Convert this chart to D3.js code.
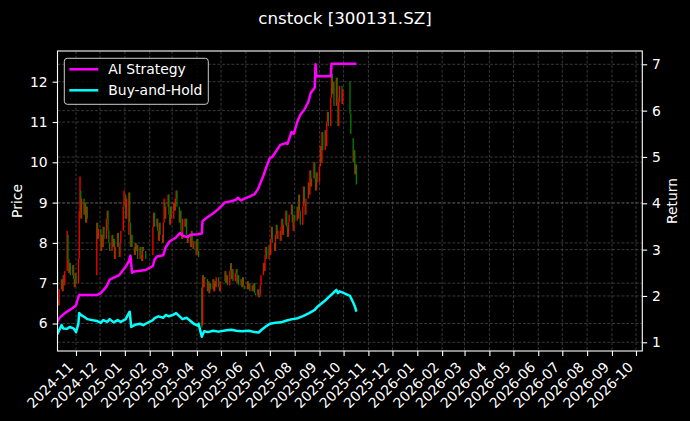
<!DOCTYPE html>
<html>
<head>
<meta charset="utf-8">
<script src="https://cdn.jsdelivr.net/npm/d3@7"></script>
<style>
  body { margin: 0; background: #000; }
  svg { display: block; font-family: "DejaVu Sans", sans-serif; }
</style>
</head>
<body>
<svg id="chart" width="690" height="421"></svg>
<script>
// trading calendar: weekdays between these, minus market holidays / suspension
const firstDay = '2024-10-08';
const lastDay = '2025-10-17';
const closedRanges = [
  ['2024-11-18', '2024-11-26'],
  ['2025-01-01', '2025-01-01'],
  ['2025-01-28', '2025-02-04'],
  ['2025-04-04', '2025-04-04'],
  ['2025-05-01', '2025-05-05'],
  ['2025-06-02', '2025-06-02'],
  ['2025-10-01', '2025-10-08']
];

// daily open / close, one line per week
const opens = [
  6.95, 7.3, 6.6, 6.45,
  6.85, 7.1, 6.8, 7.2, 6.95,
  7.3, 8.2, 7.6, 7.25, 7.5,
  7.2, 7.45, 7.1, 6.9, 7.25,
  7.0, 7.6, 8.8, 9.3, 8.6,
  9.1, 8.7, 9.0, 8.5, 8.9,
  7.2, 8.5, 8.1,
  8.35, 7.8, 8.2, 7.9, 8.4,
  8.1, 8.6, 8.8, 8.3, 8.0,
  7.8, 8.2, 7.9, 8.1, 7.6,
  7.9, 8.25, 7.9, 7.65, 8.0,
  8.3, 8.9, 9.2, 8.6,
  8.2, 9.25, 8.5, 7.9, 8.2,
  7.9, 7.7, 8.0, 7.8, 7.95,
  7.6, 7.9, 7.7, 7.55, 7.9,
  7.8,
  7.7, 8.4, 8.75,
  8.4, 8.6, 8.3, 8.05, 8.5,
  8.2, 8.0, 8.5, 9.0, 8.6,
  8.9, 9.2, 8.7, 8.45, 8.9,
  8.6, 9.0, 8.8, 9.1, 9.3,
  8.9, 8.5, 8.8, 8.3, 8.1,
  8.6, 8.4, 8.6, 8.2, 8.0,
  8.2, 7.9, 8.3, 8.0, 7.85,
  8.05, 7.7, 8.1, 7.8,
  6.9, 5.95, 7.2, 6.9, 7.15,
  7.1, 6.8, 7.05, 6.75, 7.0,
  6.85, 7.1, 6.8, 7.05, 6.9,
  7.15, 6.9, 6.8,
  7.05, 7.3, 7.0, 7.2,
  6.95, 7.3, 7.5, 7.1, 7.35,
  7.05, 7.25, 7.35, 7.0, 7.2,
  6.95, 7.1, 6.9, 7.15, 6.95,
  6.85, 7.05, 6.85, 7.0,
  6.8, 6.95, 6.8, 7.0, 6.75,
  6.7, 6.85, 6.65, 6.7, 6.95,
  7.2, 7.5, 7.3, 7.7, 7.9,
  7.6, 7.95, 7.7, 8.1, 8.4,
  8.0, 7.8, 8.2, 8.45, 8.1,
  8.3, 8.05, 8.4, 8.6, 8.2,
  8.45, 8.8, 8.4, 8.15, 8.5,
  8.7, 8.95, 8.5, 8.3, 8.7,
  8.55, 8.9, 8.6, 9.2, 8.8,
  8.45, 8.9, 9.4, 9.0, 8.7,
  9.1, 9.5, 9.2, 9.8, 9.4,
  9.6, 10.0, 9.6, 9.3, 9.75,
  9.5, 9.9, 10.4, 10.0, 10.75,
  10.3, 10.8, 10.4, 11.0, 11.25,
  10.9, 11.6, 12.2, 11.7, 12.0,
  11.4, 12.1, 11.6, 10.9, 11.5,
  11.9, 11.45,
  12.0, 11.2,
  10.6, 10.0, 10.3, 9.7, 9.95
];
const closes = [
  7.4, 6.6, 6.45, 6.85,
  7.1, 6.8, 7.2, 6.95, 7.3,
  8.3, 7.6, 7.25, 7.5, 7.2,
  7.45, 7.1, 6.9, 7.25, 7.0,
  7.6, 8.8, 9.65, 8.6, 9.1,
  8.7, 9.0, 8.5, 8.9, 8.6,
  8.5, 8.1, 8.35,
  7.8, 8.2, 7.9, 8.4, 8.1,
  8.6, 8.8, 8.3, 8.0, 7.8,
  8.2, 7.9, 8.1, 7.6, 7.9,
  8.25, 7.9, 7.65, 8.0, 8.3,
  8.9, 9.3, 8.6, 9.1,
  9.25, 8.5, 7.9, 8.2, 7.9,
  7.7, 8.0, 7.8, 7.95, 7.6,
  7.9, 7.7, 7.55, 7.9, 7.8,
  7.6,
  8.4, 8.75, 8.4,
  8.6, 8.3, 8.05, 8.5, 8.2,
  8.0, 8.5, 9.1, 8.6, 8.9,
  9.2, 8.7, 8.45, 8.9, 8.6,
  9.0, 8.8, 9.1, 9.3, 8.9,
  8.5, 8.8, 8.3, 8.1, 8.6,
  8.4, 8.6, 8.2, 8.0, 8.2,
  7.9, 8.3, 8.0, 7.85, 8.05,
  7.7, 8.1, 7.8, 7.65,
  5.9, 7.2, 6.9, 7.15, 7.1,
  6.8, 7.05, 6.75, 7.0, 6.85,
  7.1, 6.8, 7.05, 6.9, 7.15,
  6.9, 6.8, 7.05,
  7.3, 7.0, 7.2, 6.95,
  7.3, 7.5, 7.1, 7.35, 7.05,
  7.25, 7.35, 7.0, 7.2, 6.95,
  7.1, 6.9, 7.15, 6.95, 6.85,
  7.05, 6.85, 7.0, 6.8,
  6.95, 6.8, 7.0, 6.75, 6.7,
  6.85, 6.65, 6.7, 6.95, 7.2,
  7.5, 7.3, 7.7, 7.9, 7.6,
  7.95, 7.7, 8.1, 8.4, 8.0,
  7.8, 8.2, 8.45, 8.1, 8.3,
  8.05, 8.4, 8.6, 8.2, 8.45,
  8.8, 8.4, 8.15, 8.5, 8.7,
  8.95, 8.5, 8.3, 8.7, 8.55,
  8.9, 8.6, 9.2, 8.8, 8.45,
  8.9, 9.4, 9.0, 8.7, 9.1,
  9.5, 9.2, 9.8, 9.4, 9.6,
  10.0, 9.6, 9.3, 9.75, 9.5,
  9.9, 10.4, 10.0, 10.75, 10.3,
  10.8, 10.4, 11.0, 11.25, 10.9,
  11.6, 12.2, 11.7, 12.0, 11.4,
  12.1, 11.6, 10.9, 11.5, 11.9,
  11.45, 11.8,
  11.2, 10.7,
  10.0, 10.3, 9.7, 9.95, 9.45
];

// AI strategy cumulative return (right axis)
const stratDates = ['2024-10-08','2024-10-11','2024-10-18','2024-10-28','2024-11-01','2024-11-04','2024-11-05','2024-11-27',
  '2024-12-02','2024-12-09','2024-12-13','2024-12-19','2024-12-25','2025-01-02','2025-01-06','2025-01-08','2025-01-10',
  '2025-01-13','2025-01-27','2025-02-05','2025-02-07','2025-02-10','2025-02-18','2025-02-21','2025-02-26','2025-03-05',
  '2025-03-11','2025-03-14','2025-03-20','2025-03-24','2025-04-02','2025-04-07','2025-04-08','2025-04-14','2025-04-21',
  '2025-04-28','2025-05-06','2025-05-12','2025-05-19','2025-05-22','2025-05-26','2025-05-30','2025-06-05','2025-06-12',
  '2025-06-16','2025-06-23','2025-06-27','2025-07-01','2025-07-04','2025-07-14','2025-07-21','2025-07-23','2025-07-28',
  '2025-07-31','2025-08-04','2025-08-08','2025-08-13','2025-08-18','2025-08-21','2025-08-26','2025-08-27','2025-08-28',
  '2025-09-15','2025-09-16','2025-10-17'];
const stratVals = [1.42,1.52,1.63,1.74,1.80,1.98,2.02,2.02,
  2.06,2.20,2.35,2.40,2.45,2.63,2.75,2.87,2.50,
  2.53,2.56,2.65,2.78,2.85,2.88,3.05,3.18,3.25,
  3.36,3.30,3.27,3.32,3.33,3.35,3.62,3.70,3.78,
  3.88,4.02,4.04,4.07,4.12,4.06,4.10,4.14,4.20,
  4.30,4.60,4.80,4.98,5.00,5.26,5.30,5.28,5.54,
  5.50,5.75,5.91,6.02,6.19,6.38,6.50,7.00,6.74,
  6.74,7.01,7.01];

// buy-and-hold return (right axis)
const holdDates = ['2024-10-08','2024-10-10','2024-10-14','2024-10-16','2024-10-21','2024-10-24','2024-10-29','2024-11-01',
  '2024-11-04','2024-11-05','2024-11-08','2024-11-12','2024-11-15','2024-11-27','2024-12-02','2024-12-05','2024-12-10',
  '2024-12-13','2024-12-18','2024-12-23','2024-12-27','2025-01-02','2025-01-07','2025-01-09','2025-01-14','2025-01-20',
  '2025-01-24','2025-01-27','2025-02-05','2025-02-07','2025-02-12','2025-02-18','2025-02-21','2025-02-25','2025-03-03',
  '2025-03-06','2025-03-11','2025-03-14','2025-03-19','2025-03-24','2025-03-28','2025-04-02','2025-04-03','2025-04-07',
  '2025-04-08','2025-04-10','2025-04-15','2025-04-21','2025-04-28','2025-05-08','2025-05-14','2025-05-20','2025-05-27',
  '2025-06-05','2025-06-12','2025-06-17','2025-06-20','2025-06-25','2025-07-01','2025-07-08','2025-07-15','2025-07-22',
  '2025-07-29','2025-08-05','2025-08-12','2025-08-19','2025-08-26','2025-08-29','2025-09-03','2025-09-08','2025-09-12',
  '2025-09-16','2025-09-19','2025-09-22','2025-09-24','2025-09-26','2025-09-30','2025-10-09','2025-10-13','2025-10-15',
  '2025-10-17'];
const holdVals = [1.16,1.22,1.37,1.30,1.29,1.33,1.30,1.22,
  1.40,1.63,1.58,1.54,1.50,1.46,1.42,1.48,1.44,
  1.50,1.43,1.48,1.44,1.50,1.66,1.33,1.38,1.40,
  1.37,1.40,1.48,1.52,1.56,1.53,1.59,1.56,1.60,
  1.63,1.55,1.50,1.53,1.46,1.40,1.36,1.40,1.12,
  1.16,1.24,1.22,1.25,1.23,1.26,1.27,1.25,1.24,
  1.25,1.22,1.21,1.26,1.33,1.40,1.42,1.43,1.47,
  1.50,1.52,1.57,1.63,1.70,1.76,1.83,1.90,1.97,
  2.03,2.08,2.13,2.06,2.10,2.07,2.00,1.86,1.78,
  1.66];

const priceTicks = [6, 7, 8, 9, 10, 11, 12];
const returnTicks = [1, 2, 3, 4, 5, 6, 7];
const seriesNames = ['AI Strategy', 'Buy-and-Hold'];
const seriesColors = ['#ff00ff', '#00ffff'];
const chartTitle = 'cnstock [300131.SZ]';

const parse = d3.timeParse('%Y-%m-%d');
const closed = closedRanges.map(r => [parse(r[0]), parse(r[1])]);
const tradeDays = d3.timeDay.range(parse(firstDay), d3.timeDay.offset(parse(lastDay), 1))
  .filter(d => d.getDay() > 0 && d.getDay() < 6 && !closed.some(r => d >= r[0] && d <= r[1]));
const candles = tradeDays.map((d, i) => ({ date: d, o: opens[i], c: closes[i] }))
  .filter(d => d.o != null && d.c != null);

const padL = 57.5, padR = 642.3, padT = 51, padB = 351;
const tickLen = 4.9, fs = 13.9;

const x = d3.scaleTime()
  .domain([new Date(2024, 9, 8, 22), new Date(2026, 9, 8, 21)])
  .range([padL, padR]);
const yPrice = d3.scaleLinear().domain([5.318, 12.762]).range([padB, padT]);
const yRet = d3.scaleLinear().domain([0.812, 7.287]).range([padB, padT]);

const svg = d3.select('#chart');
svg.append('rect').attr('width', 690).attr('height', 421).attr('fill', '#000');

svg.append('defs').append('clipPath').attr('id', 'plot')
  .append('rect').attr('x', padL).attr('y', padT).attr('width', padR - padL).attr('height', padB - padT);

// grid
const monthTicks = x.ticks(d3.timeMonth.every(1));
const grid = svg.append('g').attr('stroke', '#5c5c5c').attr('stroke-width', 0.6)
  .attr('stroke-dasharray', '3,1.7');
grid.selectAll('.gx').data(monthTicks).enter().append('line')
  .attr('x1', d => x(d)).attr('x2', d => x(d)).attr('y1', padT).attr('y2', padB);
grid.selectAll('.gp').data(priceTicks).enter().append('line')
  .attr('x1', padL).attr('x2', padR).attr('y1', d => yPrice(d)).attr('y2', d => yPrice(d));
grid.selectAll('.gr').data(returnTicks).enter().append('line')
  .attr('x1', padL).attr('x2', padR).attr('y1', d => yRet(d)).attr('y2', d => yRet(d));

// candles
const plot = svg.append('g').attr('clip-path', 'url(#plot)');
plot.selectAll('rect.candle').data(candles).enter().append('rect')
  .attr('class', 'candle')
  .attr('x', d => x(d.date) - 0.65)
  .attr('width', 1.3)
  .attr('y', d => yPrice(Math.max(d.o, d.c)))
  .attr('height', d => Math.max(1, Math.abs(yPrice(d.o) - yPrice(d.c))))
  .attr('fill', d => d.c >= d.o ? '#ff0000' : '#008000');

// return lines
const line = d3.line().x(d => x(d[0])).y(d => yRet(d[1]));
const stratData = stratDates.map((d, i) => [parse(d), stratVals[i]]);
const holdData = holdDates.map((d, i) => [parse(d), holdVals[i]]);
[stratData, holdData].forEach((data, i) => {
  plot.append('path').datum(data)
    .attr('d', line)
    .attr('fill', 'none')
    .attr('stroke', seriesColors[i])
    .attr('stroke-width', 2.5)
    .attr('stroke-linejoin', 'round');
});

// frame
svg.append('rect').attr('x', padL).attr('y', padT).attr('width', padR - padL).attr('height', padB - padT)
  .attr('fill', 'none').attr('stroke', '#fff').attr('stroke-width', 1.1);

// axes
function styleAxis(g) {
  g.select('.domain').remove();
  g.selectAll('line').attr('stroke', '#fff').attr('stroke-width', 1.1);
  g.selectAll('text').attr('fill', '#fff').style('font-size', fs + 'px')
    .style('font-family', '"DejaVu Sans", sans-serif');
}

const xAxis = svg.append('g').attr('transform', `translate(0,${padB})`)
  .call(d3.axisBottom(x).tickValues(monthTicks).tickFormat(d3.timeFormat('%Y-%m')).tickSize(tickLen))
  .call(styleAxis);
xAxis.selectAll('text')
  .attr('x', null).attr('y', null).attr('dy', null)
  .attr('text-anchor', 'end')
  .attr('transform', 'translate(-2.5,17) rotate(-45)');

svg.append('g').attr('transform', `translate(${padL},0)`)
  .call(d3.axisLeft(yPrice).tickValues(priceTicks).tickFormat(d3.format('d')).tickSize(tickLen).tickPadding(4.9))
  .call(styleAxis);

svg.append('g').attr('transform', `translate(${padR},0)`)
  .call(d3.axisRight(yRet).tickValues(returnTicks).tickFormat(d3.format('d')).tickSize(tickLen).tickPadding(4.9))
  .call(styleAxis);

// labels
svg.append('text').attr('x', 345).attr('y', 24).attr('text-anchor', 'middle')
  .attr('fill', '#fff').style('font-size', '16.7px').text(chartTitle);
svg.append('text').attr('transform', `translate(22,${(padT + padB) / 2}) rotate(-90)`)
  .attr('text-anchor', 'middle').attr('fill', '#fff').style('font-size', fs + 'px').text('Price');
svg.append('text').attr('transform', `translate(677,${(padT + padB) / 2}) rotate(-90)`)
  .attr('text-anchor', 'middle').attr('fill', '#fff').style('font-size', fs + 'px').text('Return');

// legend
const legend = svg.append('g').attr('transform', 'translate(64.3,58.3)');
legend.append('rect').attr('width', 144).attr('height', 46).attr('rx', 3)
  .attr('fill', '#000').attr('fill-opacity', 0.8)
  .attr('stroke', '#cccccc').attr('stroke-width', 1);
seriesNames.forEach((name, i) => {
  const yy = 11 + i * 21;
  legend.append('line').attr('x1', 5).attr('x2', 34).attr('y1', yy).attr('y2', yy)
    .attr('stroke', seriesColors[i]).attr('stroke-width', 2.5);
  legend.append('text').attr('x', 44).attr('y', yy + 5).attr('fill', '#fff')
    .style('font-size', fs + 'px').text(name);
});
</script>
</body>
</html>
